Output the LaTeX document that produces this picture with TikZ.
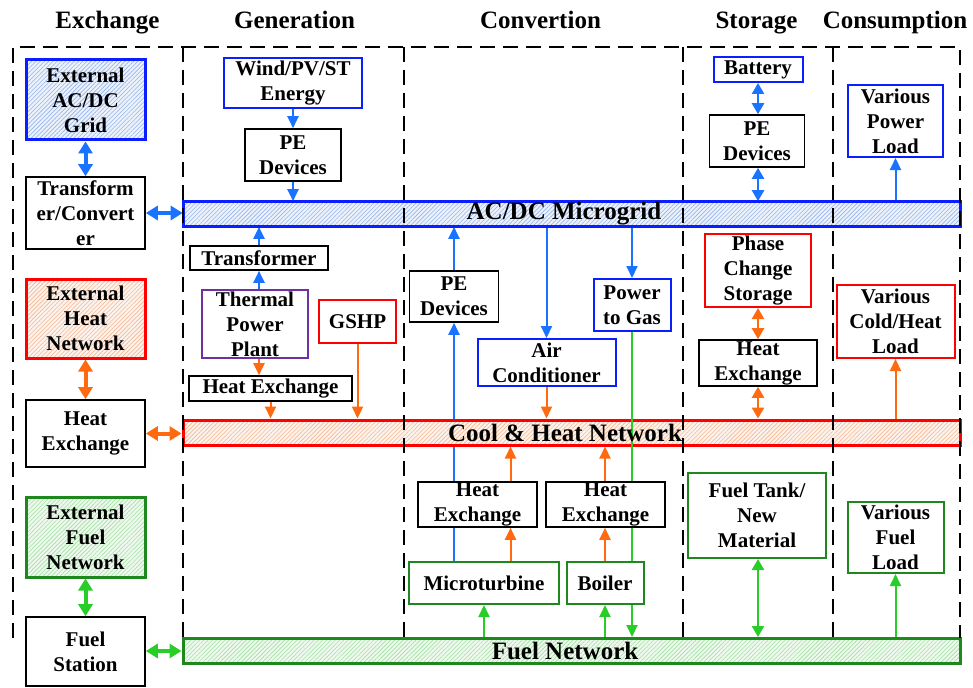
\documentclass[tikz,border=0pt]{standalone}
\usepackage{tikz}
\usepackage{fontspec}
\setmainfont{Liberation Serif}
\usetikzlibrary{arrows.meta,patterns.meta,calc}

\definecolor{lineblue}{RGB}{25,115,255}
\definecolor{boxblue}{RGB}{10,30,255}
\definecolor{hatchblu}{RGB}{150,180,230}
\definecolor{fillblu}{RGB}{236,242,252}
\definecolor{heatred}{RGB}{255,0,0}
\definecolor{heatorange}{RGB}{255,105,15}
\definecolor{hatchorg}{RGB}{240,185,150}
\definecolor{fillorg}{RGB}{253,242,236}
\definecolor{fuelgreen}{RGB}{40,205,40}
\definecolor{darkgreen}{RGB}{30,135,30}
\definecolor{hatchgrn}{RGB}{165,222,165}
\definecolor{fillgrn}{RGB}{238,249,238}
\definecolor{plantpurple}{RGB}{112,48,160}

\newcommand{\boxfont}{\fontsize{21}{25}\selectfont\bfseries}
\newcommand{\headfont}{\fontsize{25}{30}\selectfont\bfseries}

\pgfdeclarelayer{back}
\pgfsetlayers{back,main}

\tikzset{
  base/.style={inner sep=0pt, align=center, font=\boxfont},
  box/.style={base, draw=black, line width=1.6pt, fill=white},
  bbox/.style={box, draw=boxblue, line width=2pt},
  rbox/.style={box, draw=heatred, line width=2pt},
  gbox/.style={box, draw=darkgreen, line width=2pt},
  pbox/.style={box, draw=plantpurple, line width=2pt},
  ext/.style={base, line width=3pt},
  elec/.style={preaction={fill=fillblu}, pattern={Lines[angle=45,distance=3pt,line width=0.6pt]}, pattern color=hatchblu},
  heat/.style={preaction={fill=fillorg}, pattern={Lines[angle=45,distance=3pt,line width=0.6pt]}, pattern color=hatchorg},
  fuel/.style={preaction={fill=fillgrn}, pattern={Lines[angle=45,distance=3pt,line width=0.6pt]}, pattern color=hatchgrn},
  bar/.style={inner sep=0pt, line width=3pt, minimum width=777pt, minimum height=25pt},
  head/.style={font=\headfont, anchor=base, inner sep=0pt},
  barlabel/.style={font=\headfont, inner sep=0pt},
  onearrow/.style={line width=2pt, -{Triangle[length=12pt,width=11pt]}},
  twoarrow/.style={line width=2.4pt, {Triangle[length=11pt,width=12pt]}-{Triangle[length=11pt,width=12pt]}},
  bigarrow/.style={line width=4pt, {Triangle[length=12pt,width=14pt]}-{Triangle[length=12pt,width=14pt]}},
  ba/.style={onearrow, draw=lineblue, fill=lineblue},
  oa/.style={onearrow, draw=heatorange, fill=heatorange},
  ga/.style={onearrow, draw=fuelgreen, fill=fuelgreen},
  dashline/.style={draw=black, line width=2pt, dash pattern=on 15pt off 8pt},
}

\begin{document}
\begin{tikzpicture}[x=1pt, y=-1pt]
\useasboundingbox (0,0) rectangle (973,687);

% column headings
\node[head] (hEx)  at (107.5,29) {Exchange};
\node[head] (hGen) at (294.5,29) {Generation};
\node[head] (hCon) at (540.5,29) {Convertion};
\node[head] (hSto) at (756.5,29) {Storage};
\node[head] (hCns) at (895,29)   {Consumption};

% energy buses
\node[bar, draw=boxblue, elec]    (mg)  at (571.5,214)   {};
\node[bar, draw=heatred, heat]    (chn) at (571.5,432.5) {};
\node[bar, draw=darkgreen, fuel]  (fn)  at (571.5,651)   {};

% power-to-gas; its gas line shows through the heat network bus
\node[box, draw=boxblue, line width=2pt, minimum width=77pt, minimum height=52pt] (p2g) at (632,305) {Power\\to Gas};
\fill[fuelgreen] ($(p2g.south |- chn.north)+(-1,0)$) rectangle ($(p2g.south |- chn.south)+(1,0)$);

% dashed column frame
\draw[dashline] (13,638) -- (13,47) -- (960,47) -- (960,638);
\draw[dashline] (183,47) -- (183,638);
\draw[dashline] (404,47) -- (404,638);
\draw[dashline] (683,47) -- (683,638);
\draw[dashline] (833,47) -- (833,638);

\node[barlabel] (mgl)  at (564,214)   {AC/DC Microgrid};
\node[barlabel] (chnl) at (565,432.5) {Cool \& Heat Network};
\node[barlabel] (fnl)  at (565,651)   {Fuel Network};

% Exchange
\node[ext, draw=boxblue, elec, minimum width=119pt, minimum height=80pt]   (extgrid) at (85.5,100)   {External\\AC/DC\\Grid};
\node[box, minimum width=119pt, minimum height=72pt]                      (trans)   at (85.5,213)   {Transform\\er/Convert\\er};
\node[ext, draw=heatred, heat, minimum width=119pt, minimum height=79pt]   (extheat) at (85.5,318.5) {External\\Heat\\Network};
\node[box, minimum width=119pt, minimum height=67pt]                      (hexL)    at (85.5,433.5) {Heat\\Exchange};
\node[ext, draw=darkgreen, fuel, minimum width=119pt, minimum height=80pt] (extfuel) at (85.5,537)   {External\\Fuel\\Network};
\node[box, minimum width=119pt, minimum height=69pt]                      (fuelst)  at (85.5,651.5) {Fuel\\Station};

% Generation
\node[bbox, minimum width=138pt, minimum height=50pt] (wind)    at (293,83)    {Wind/PV/ST\\Energy};
\node[box,  minimum width=96pt,  minimum height=52pt] (peG)     at (293,155)   {PE\\Devices};
\node[box,  minimum width=138pt, minimum height=24pt] (tfm)     at (259,258)   {Transformer};
\node[pbox, minimum width=106pt, minimum height=68pt] (thermal) at (255,324)   {Thermal\\Power\\Plant};
\node[rbox, minimum width=77pt,  minimum height=43pt] (gshp)    at (357.5,321.5) {GSHP};
\node[box,  minimum width=163pt, minimum height=25pt] (hexG)    at (270.5,388.5) {Heat Exchange};

% Convertion
\node[box,  minimum width=89pt,  minimum height=51pt] (peC)    at (454,296.5)   {PE\\Devices};
\node[bbox, minimum width=138pt, minimum height=47pt] (ac)     at (546.5,362.5) {Air\\Conditioner};
\node[box,  minimum width=119pt, minimum height=45pt] (hexC1)  at (477.5,504.5) {Heat\\Exchange};
\node[box,  minimum width=119pt, minimum height=45pt] (hexC2)  at (605.5,504.5) {Heat\\Exchange};
\node[gbox, minimum width=150pt, minimum height=42pt] (mt)     at (484,583)     {Microturbine};
\node[gbox, minimum width=77pt,  minimum height=42pt] (boiler) at (605,583)     {Boiler};
\coordinate (mtheat) at (510.5,0);

% Storage
\node[bbox, minimum width=89pt,  minimum height=25pt] (batt)  at (758,69.5)  {Battery};
\node[box,  minimum width=95pt,  minimum height=52pt] (peS)   at (757,141)   {PE\\Devices};
\node[rbox, minimum width=106pt, minimum height=73pt] (pcs)   at (758,270.5) {Phase\\Change\\Storage};
\node[box,  minimum width=118pt, minimum height=46pt] (hexS)  at (758,363)   {Heat\\Exchange};
\node[gbox, minimum width=138pt, minimum height=85pt] (ftank) at (757,515.5) {Fuel Tank/\\New\\Material};

% Consumption
\node[bbox, minimum width=95pt,  minimum height=72pt] (vpl)  at (895.5,121)   {Various\\Power\\Load};
\node[rbox, minimum width=118pt, minimum height=73pt] (vchl) at (895.5,321.5) {Various\\Cold/Heat\\Load};
\node[gbox, minimum width=96pt,  minimum height=71pt] (vfl)  at (895.5,537.5) {Various\\Fuel\\Load};

% connectors, kept behind buses and boxes
\begin{pgfonlayer}{back}
% exchange links
\draw[bigarrow, draw=lineblue, fill=lineblue]   (extgrid.south) -- (trans.north);
\draw[bigarrow, draw=lineblue, fill=lineblue]   (trans.east) -- (trans.east -| mg.west);
\draw[bigarrow, draw=heatorange, fill=heatorange] (extheat.south) -- (hexL.north);
\draw[bigarrow, draw=heatorange, fill=heatorange] (hexL.east) -- (hexL.east -| chn.west);
\draw[bigarrow, draw=fuelgreen, fill=fuelgreen] (extfuel.south) -- (fuelst.north);
\draw[bigarrow, draw=fuelgreen, fill=fuelgreen] (fuelst.east |- fn.west) -- (fn.west);
% generation
\draw[ba] (wind.south) -- (peG.north);
\draw[ba] (peG.south) -- (peG.south |- mg.north);
\draw[ba] (thermal.north -| tfm.south) -- (tfm.south);
\draw[ba] (tfm.north) -- (tfm.north |- mg.south);
\draw[oa] (thermal.south -| tfm.south) -- (hexG.north -| tfm.south);
\draw[oa] (hexG.south) -- (hexG.south |- chn.north);
\draw[oa] (gshp.south) -- (gshp.south |- chn.north);
% convertion
\draw[ba] (mt.north -| peC.south) -- (peC.south);
\draw[ba] (peC.north) -- (peC.north |- mg.south);
\draw[ba] (ac.north |- mg.south) -- (ac.north);
\draw[oa] (ac.south) -- (ac.south |- chn.north);
\draw[ba] (p2g.north |- mg.south) -- (p2g.north);
\draw[ga] (p2g.south) -- (p2g.south |- fn.north);
\draw[oa] (mt.north -| mtheat) -- (hexC1.south -| mtheat);
\draw[oa] (hexC1.north -| mtheat) -- (chn.south -| mtheat);
\draw[oa] (boiler.north) -- (hexC2.south -| boiler.north);
\draw[oa] (hexC2.north -| boiler.north) -- (chn.south -| boiler.north);
\draw[ga] (mt.south |- fn.north) -- (mt.south);
\draw[ga] (boiler.south |- fn.north) -- (boiler.south);
% storage
\draw[twoarrow, draw=lineblue, fill=lineblue] (batt.south) -- (peS.north -| batt.south);
\draw[twoarrow, draw=lineblue, fill=lineblue] (peS.south -| batt.south) -- (mg.north -| batt.south);
\draw[twoarrow, draw=heatorange, fill=heatorange] (pcs.south) -- (hexS.north);
\draw[twoarrow, draw=heatorange, fill=heatorange] (hexS.south) -- (hexS.south |- chn.north);
\draw[twoarrow, draw=fuelgreen, fill=fuelgreen] (ftank.south -| pcs.south) -- (fn.north -| pcs.south);
% consumption
\draw[ba] (vpl.south |- mg.north) -- (vpl.south);
\draw[oa] (vchl.south |- chn.north) -- (vchl.south);
\draw[ga] (vfl.south |- fn.north) -- (vfl.south);
\end{pgfonlayer}
\end{tikzpicture}
\end{document}
